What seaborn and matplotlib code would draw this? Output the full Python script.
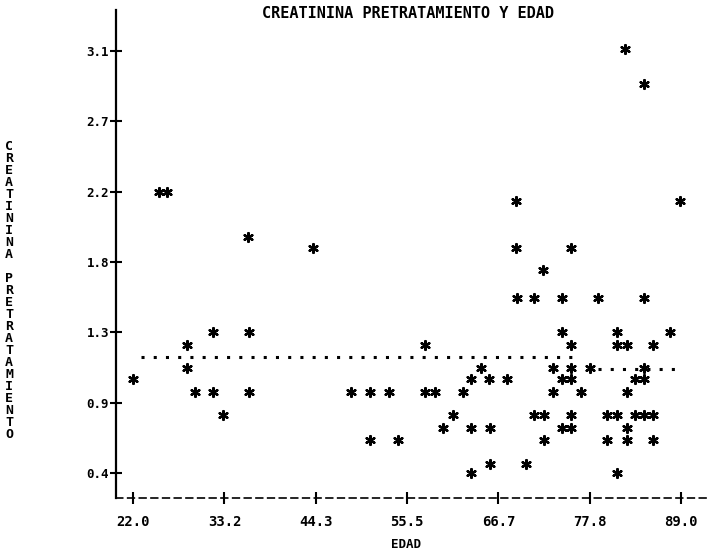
import pandas as pd
import matplotlib
matplotlib.use("Agg")
import matplotlib.pyplot as plt
import seaborn as sns

# Datos (edad, creatinina pretratamiento)
edad = [22.0, 25.1, 26.1, 28.6, 28.6, 29.6, 31.8, 31.8, 33.0, 36.2,
        36.2, 36.1, 44.0, 48.7, 51.0, 53.3, 51.0, 54.4, 57.7, 57.7,
        58.9, 61.1, 59.9, 62.3, 63.3, 63.3, 63.3, 64.6, 65.5, 65.6,
        65.6, 67.7, 68.8, 68.8, 68.9, 70.0, 71.0, 71.0, 72.2, 72.1,
        72.2, 73.4, 73.4, 74.5, 74.5, 74.5, 74.5, 75.5, 75.6, 75.6,
        75.6, 75.6, 75.6, 76.8, 77.9, 78.9, 79.9, 79.9, 81.2, 81.2,
        81.2, 81.2, 82.2, 82.4, 82.4, 82.4, 82.4, 83.4, 83.4, 84.5,
        84.5, 84.5, 84.5, 84.5, 85.6, 85.6, 85.6, 87.7, 88.9]
creatinina = [1.00, 2.20, 2.20, 1.22, 1.07, 0.92, 1.30, 0.92, 0.77, 1.30,
              0.92, 1.91, 1.84, 0.92, 0.92, 0.92, 0.61, 0.61, 1.22, 0.92,
              0.92, 0.77, 0.69, 0.92, 1.00, 0.69, 0.40, 1.07, 1.00, 0.69,
              0.46, 1.00, 2.14, 1.84, 1.52, 0.46, 1.52, 0.77, 0.77, 1.70,
              0.61, 1.07, 0.92, 1.52, 1.30, 1.00, 0.69, 1.84, 1.22, 1.07,
              1.00, 0.77, 0.69, 0.92, 1.07, 1.52, 0.77, 0.61, 1.30, 1.22,
              0.77, 0.40, 3.11, 1.22, 0.92, 0.69, 0.61, 1.00, 0.77, 2.89,
              1.52, 1.07, 1.00, 0.77, 1.22, 0.77, 0.61, 1.30, 2.14]

# Linea punteada (dos tramos)
tramo1_edad = [22.9, 76.7]
tramo1_val = [1.14, 1.14]
tramo2_edad = [78.9, 89.2]
tramo2_val = [1.065, 1.065]

xticks = [22.0, 33.17, 44.33, 55.5, 66.67, 77.83, 89.0]
xtick_labels = ["22.0", "33.2", "44.3", "55.5", "66.7", "77.8", "89.0"]
yticks = [0.4, 0.85, 1.3, 1.75, 2.2, 2.65, 3.1]
ytick_labels = ["0.4", "0.9", "1.3", "1.8", "2.2", "2.7", "3.1"]

df = pd.DataFrame({"EDAD": edad, "CREATININA": creatinina})

sns.set_style("ticks")
plt.rcParams["font.family"] = ["DejaVu Sans Mono"]
plt.rcParams["font.weight"] = "bold"
plt.rcParams["text.color"] = "black"
plt.rcParams["xtick.color"] = "black"
plt.rcParams["ytick.color"] = "black"

fig = plt.figure(figsize=(7.14, 5.52), dpi=100)
ax = fig.add_axes([116 / 714, 54 / 552, 590 / 714, 488 / 552])

sns.scatterplot(data=df, x="EDAD", y="CREATININA", marker=(6, 2, 0), s=40,
                color="black", linewidth=1.7, ax=ax)
sns.lineplot(x=tramo1_edad, y=tramo1_val, color="black", linewidth=2.2,
             linestyle=(0, (1, 3)), ax=ax)
sns.lineplot(x=tramo2_edad, y=tramo2_val, color="black", linewidth=2.2,
             linestyle=(0, (1, 3)), ax=ax)

ax.set_xlim(19.9, 92.06)
ax.set_ylim(0.242, 3.36)
ax.set_xticks(xticks)
ax.set_xticklabels(xtick_labels, fontsize=10)
ax.set_yticks(yticks)
ax.set_yticklabels(ytick_labels, fontsize=9)
ax.tick_params(axis="both", bottom=True, left=True, direction="inout",
               length=8, width=1.5, color="black")
ax.tick_params(axis="x", pad=8)
ax.tick_params(axis="y", pad=1)
ax.set_xlabel("")
ax.set_ylabel("")

sns.despine(ax=ax)
ax.spines["left"].set_color("black")
ax.spines["left"].set_linewidth(1.6)
ax.spines["bottom"].set_color("black")
ax.spines["bottom"].set_linewidth(1.2)
ax.spines["bottom"].set_linestyle((0, (4, 3)))

fig.text(408 / 714, 1 - 14 / 552, "CREATININA PRETRATAMIENTO Y EDAD",
         ha="center", va="center", fontsize=11)
fig.text(406 / 714, 1 - 545 / 552, "EDAD", ha="center", va="center", fontsize=9)
fig.text(9 / 714, 1 - 290 / 552, "\n".join("CREATININA PRETRATAMIENTO"),
         ha="center", va="center", fontsize=9.5, linespacing=0.9)

fig.savefig("out.png", dpi=100)
